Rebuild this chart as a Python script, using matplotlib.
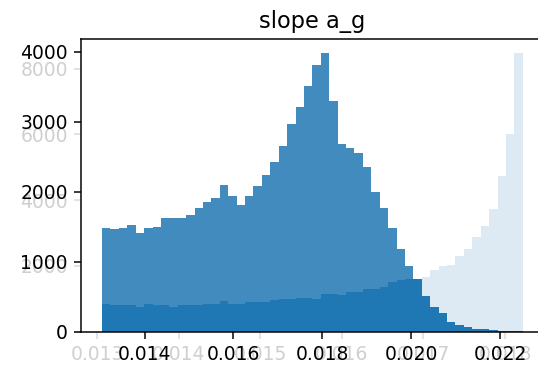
import numpy as np
import matplotlib.pyplot as plt

# bin ranges of the two overlaid histograms
main_range = (0.0130418, 0.0225106)
back_range = (0.0130612, 0.0182174)

# counts per bin (50 bins)
all_counts = [1482, 1463, 1482, 1525, 1405, 1482, 1502, 1625, 1625, 1625,
              1667, 1772, 1852, 1915, 2100, 1938, 1815, 1934, 2080, 2243,
              2428, 2656, 2969, 3206, 3503, 3812, 3981, 3297, 2679, 2617,
              2551, 2347, 1995, 1767, 1482, 1174, 938, 640, 420, 290,
              200, 120, 80, 50, 35, 25, 15, 8, 4, 2]

sub_counts = [395, 376, 376, 376, 357, 395, 376, 376, 357, 376,
              376, 385, 395, 395, 437, 395, 395, 418, 418, 418,
              447, 466, 466, 480, 482, 463, 541, 541, 518, 561,
              561, 606, 606, 641, 703, 737, 751, 751, 513, 347,
              262, 143, 97, 66, 43, 38, 22, 12, 6, 3]

back_counts = [210, 220, 230, 240, 250, 265, 280, 295, 310, 330,
               345, 360, 380, 400, 420, 440, 460, 485, 510, 535,
               560, 590, 620, 650, 685, 720, 760, 800, 845, 890,
               940, 990, 1045, 1100, 1160, 1225, 1300, 1480, 1677, 1881,
               2003, 2034, 2299, 2512, 2878, 3223, 3741, 4738, 6006, 8476]

dpi = 135
fig = plt.figure(figsize=(538 / dpi, 366 / dpi), dpi=dpi)
pos = [81 / 538, (366 - 331.7) / 366, (543.8 - 81) / 538, (331.7 - 39) / 366]

# faint background axes
ax2 = fig.add_axes(pos)
edges2 = np.linspace(back_range[0], back_range[1], len(back_counts) + 1)
ax2.hist(edges2[:-1], bins=edges2, weights=back_counts, color='C0', alpha=0.15)
ax2.tick_params(colors='#dadada', labelcolor='#cfcfcf')
for s in ax2.spines.values():
    s.set_visible(False)

# main axes on top
ax = fig.add_axes(pos)
ax.patch.set_alpha(0)
edges = np.linspace(main_range[0], main_range[1], len(all_counts) + 1)
ax.hist(edges[:-1], bins=edges, weights=all_counts, color='C0', alpha=0.85)
ax.hist(edges[:-1], bins=edges, weights=sub_counts, color='C0')
ax.set_title("slope a_g")

fig.savefig("out.png", dpi=dpi)
